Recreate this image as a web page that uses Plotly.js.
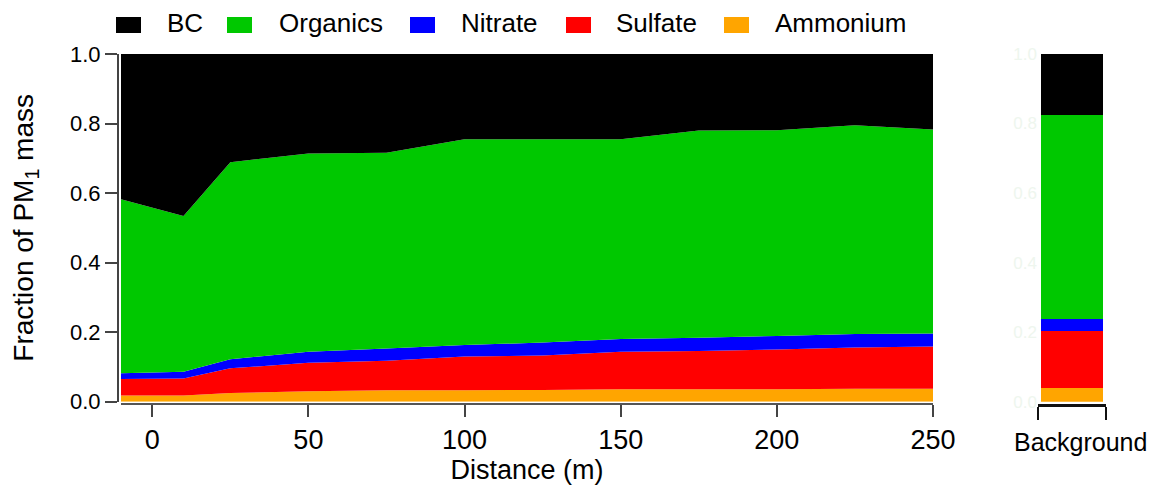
<!DOCTYPE html>
<html><head><meta charset="utf-8">
<script src="https://cdn.plot.ly/plotly-3.0.1.min.js"></script>
<style>html,body{margin:0;padding:0;background:#fff}#chart{width:1152px;height:486px}</style>
</head><body><div id="chart"></div>
<script>
// ---- data ----
const distance = [-10, 10, 25, 50, 75, 100, 125, 150, 175, 200, 225, 250];
const ammonium = [0.018, 0.018, 0.025, 0.030, 0.033, 0.033, 0.034, 0.036, 0.036, 0.036, 0.037, 0.037];
const sulfate  = [0.047, 0.049, 0.071, 0.082, 0.085, 0.097, 0.099, 0.108, 0.110, 0.114, 0.119, 0.122];
const nitrate  = [0.017, 0.019, 0.026, 0.032, 0.035, 0.033, 0.037, 0.036, 0.038, 0.039, 0.039, 0.037];
const organics = [0.500, 0.448, 0.567, 0.570, 0.563, 0.592, 0.585, 0.575, 0.596, 0.592, 0.600, 0.587];
const bc       = [0.418, 0.466, 0.311, 0.286, 0.284, 0.245, 0.245, 0.245, 0.220, 0.219, 0.205, 0.217];

const bgCategory = ['Background'];
const bgAmmonium = [0.040];
const bgSulfate  = [0.164];
const bgNitrate  = [0.034];
const bgOrganics = [0.586];
const bgBC       = [0.176];

const legendNames = ['BC', 'Organics', 'Nitrate', 'Sulfate', 'Ammonium'];
const xTickVals = [0, 50, 100, 150, 200, 250];
const yTickVals = [0, 0.2, 0.4, 0.6, 0.8, 1.0];

// ---- styling ----
const colors = {BC: '#000000', Organics: '#00C800', Nitrate: '#0000FF', Sulfate: '#FF0000', Ammonium: '#FFA500'};
const W = 1152, H = 486;
const px = x => x / W;
const py = y => 1 - y / H;
const FONT = 'Liberation Sans, Arial, sans-serif';

const main = [
  ['Ammonium', ammonium], ['Sulfate', sulfate], ['Nitrate', nitrate], ['Organics', organics], ['BC', bc]
];
const bg = [
  ['Ammonium', bgAmmonium], ['Sulfate', bgSulfate], ['Nitrate', bgNitrate], ['Organics', bgOrganics], ['BC', bgBC]
];

const traces = [];
main.forEach(([name, vals]) => {
  traces.push({
    type: 'scatter', x: distance, y: vals, name: name, stackgroup: 'main',
    mode: 'none', fillcolor: colors[name], line: {width: 0, shape: 'linear'},
    xaxis: 'x', yaxis: 'y', showlegend: false, hoverinfo: 'skip'
  });
});
bg.forEach(([name, vals]) => {
  traces.push({
    type: 'bar', x: [0], y: vals, name: name, width: 0.912,
    marker: {color: colors[name], line: {width: 0}},
    xaxis: 'x2', yaxis: 'y2', showlegend: false, hoverinfo: 'skip'
  });
});

// legend built from shapes + text
const legSquareX = [116, 227, 410, 566, 724];
const legTextX = [165, 277, 459, 614, 773];
const shapes = [];
const annotations = [];
legendNames.forEach((n, i) => {
  shapes.push({type: 'rect', xref: 'paper', yref: 'paper',
    x0: px(legSquareX[i]), x1: px(legSquareX[i] + 25), y0: py(33), y1: py(17),
    fillcolor: colors[n], line: {width: 0}});
  annotations.push({text: n, xref: 'paper', yref: 'paper', x: px(legTextX[i]), y: py(23),
    xanchor: 'left', yanchor: 'middle', showarrow: false,
    font: {family: FONT, size: 26, color: '#000'}});
});
annotations.push({text: bgCategory[0], xref: 'paper', yref: 'paper', x: px(1080), y: py(442),
  xanchor: 'center', yanchor: 'middle', showarrow: false,
  font: {family: FONT, size: 25, color: '#000'}});

const layout = {
  width: W, height: H,
  margin: {l: 0, r: 0, t: 0, b: 0},
  paper_bgcolor: '#fff', plot_bgcolor: '#fff',
  showlegend: false, hovermode: false, barmode: 'stack',
  font: {family: FONT, color: '#000'},
  xaxis: {
    domain: [px(121), px(933)], range: [-10, 250], anchor: 'free', position: py(404),
    tickvals: xTickVals, ticks: 'outside', ticklen: 12, tickwidth: 2, tickcolor: '#444',
    showline: true, linewidth: 2, linecolor: '#555', showgrid: false, zeroline: false,
    tickfont: {family: FONT, size: 27, color: '#000'},
    title: {text: 'Distance (m)', font: {family: FONT, size: 27, color: '#000'}, standoff: 2}
  },
  yaxis: {
    domain: [py(401.7), py(54)], range: [0, 1], anchor: 'free', position: px(118),
    tickvals: yTickVals, tickformat: '.1f', ticks: 'outside', ticklen: 12, tickwidth: 2, tickcolor: '#444',
    showline: true, linewidth: 2, linecolor: '#444', showgrid: false, zeroline: false,
    tickfont: {family: FONT, size: 22, color: '#000'},
    title: {text: 'Fraction of PM<sub>1</sub> mass', font: {family: FONT, size: 28, color: '#000'}, standoff: 27}
  },
  xaxis2: {
    domain: [px(1038), px(1106)], range: [-0.5, 0.5], anchor: 'free', position: py(405),
    tickvals: [-0.499, 0.499], showticklabels: false, ticks: 'outside', ticklen: 13, tickwidth: 2.5, tickcolor: '#111',
    showline: true, linewidth: 2.5, linecolor: '#111', showgrid: false, zeroline: false
  },
  yaxis2: {
    domain: [py(401.7), py(54)], range: [0, 1], anchor: 'x2',
    tickvals: yTickVals, tickformat: '.1f', ticks: '', showline: false, showgrid: false, zeroline: false,
    tickfont: {family: FONT, size: 17, color: '#eef6ee'}
  },
  shapes: shapes,
  annotations: annotations
};

Plotly.newPlot('chart', traces, layout, {displayModeBar: false, staticPlot: true});
</script>
</body></html>
